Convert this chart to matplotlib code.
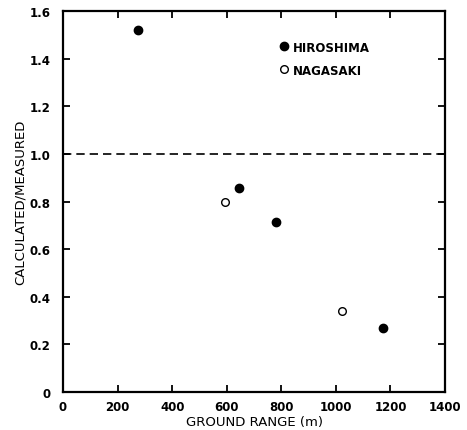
import numpy as np
import matplotlib
matplotlib.use('Agg')
import matplotlib.pyplot as plt

# Data
hiroshimaRange = [275, 645, 781, 1173]
hiroshimaRatio = [1.52, 0.855, 0.715, 0.27]
nagasakiRange = [594, 1022]
nagasakiRatio = [0.80, 0.34]

xTicks = [0, 200, 400, 600, 800, 1000, 1200, 1400]
yTicks = [0, 0.2, 0.4, 0.6, 0.8, 1.0, 1.2, 1.4, 1.6]
yTickLabels = ['0', '0.2', '0.4', '0.6', '0.8', '1.0', '1.2', '1.4', '1.6']

plt.rcParams['font.family'] = ['DejaVu Sans']

fig = plt.figure(figsize=(4.67, 4.31), dpi=100)
ax = fig.add_axes([0.135, 0.088, 0.818, 0.884])

ax.plot(hiroshimaRange, hiroshimaRatio, 'o', color='black', markersize=6, label='HIROSHIMA')
ax.plot(nagasakiRange, nagasakiRatio, 'o', markerfacecolor='white', markeredgecolor='black',
        markeredgewidth=1.0, markersize=5.5, label='NAGASAKI')

# Unity line
ax.axhline(1.0, color='black', linestyle=(0, (5, 3)), linewidth=1.2)

ax.set_xlim(0, 1400)
ax.set_ylim(0, 1.6)
ax.set_xticks(xTicks)
ax.set_xticklabels([str(t) for t in xTicks], fontweight='bold')
ax.set_yticks(yTicks)
ax.set_yticklabels(yTickLabels, fontweight='bold')

ax.tick_params(direction='in', top=True, right=True, length=5, width=1.3, labelsize=8.5, colors='black')
ax.tick_params(axis='x', pad=6)
ax.tick_params(axis='y', pad=9)
for spine in ax.spines.values():
    spine.set_linewidth(1.6)

ax.set_xlabel('GROUND RANGE (m)', fontsize=9.5, labelpad=1)
ax.set_ylabel('CALCULATED/MEASURED', fontsize=9.5, labelpad=2)

ax.legend(loc='upper left', bbox_to_anchor=(0.55, 0.935), frameon=False,
          prop={'weight': 'bold', 'size': 8.5},
          handletextpad=0.3, labelspacing=0.85, handlelength=1.0, borderaxespad=0)

fig.savefig('out.png', dpi=100)
